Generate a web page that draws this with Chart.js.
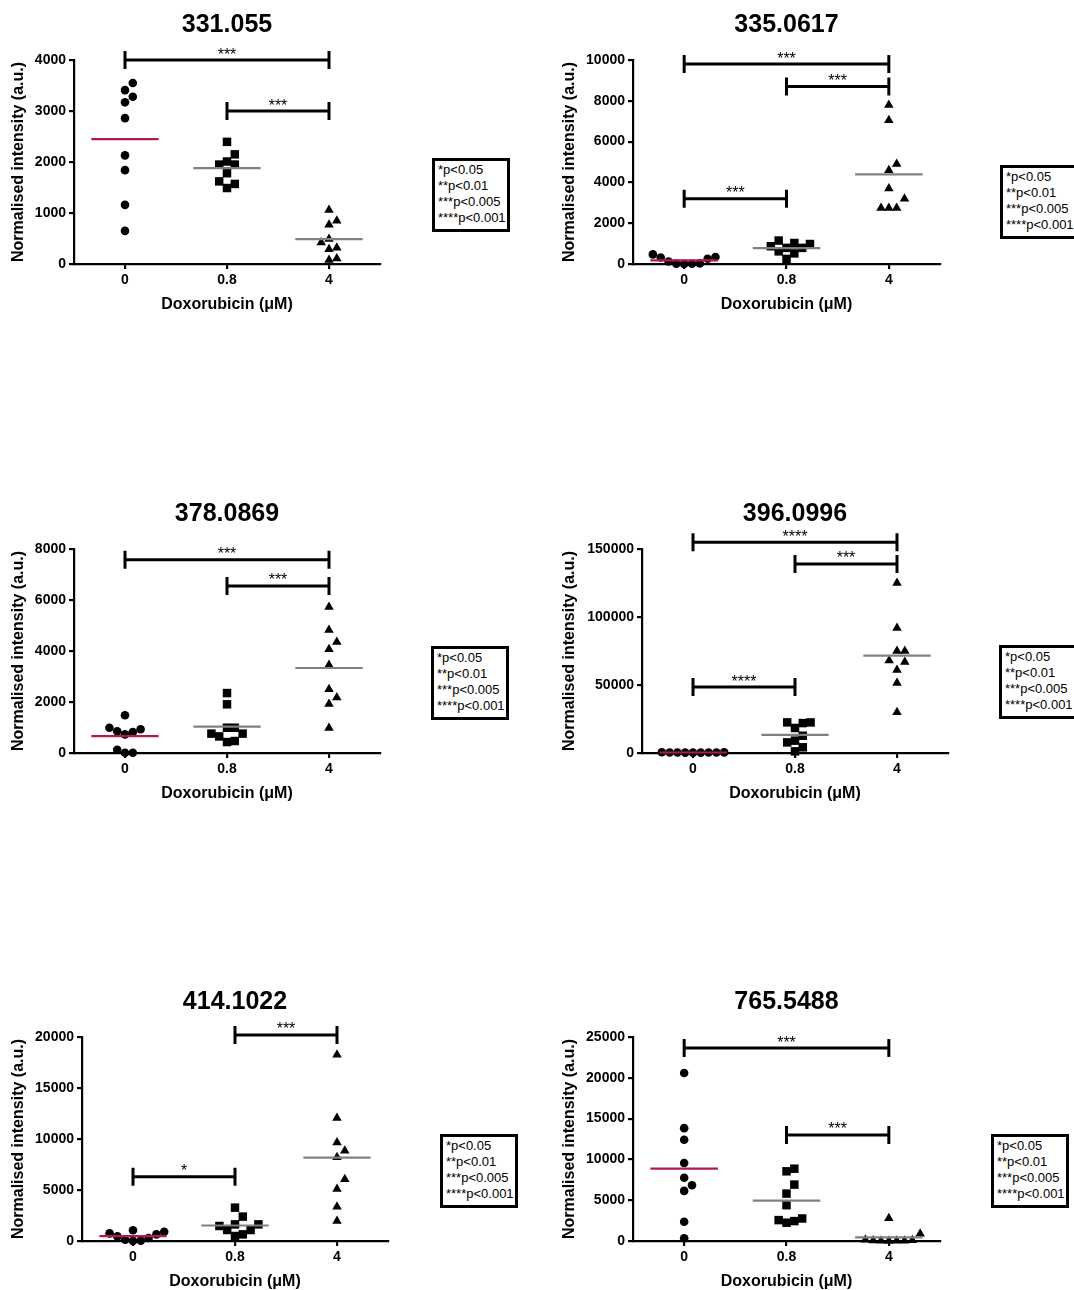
<!DOCTYPE html>
<html>
<head>
<meta charset="utf-8">
<title>Doxorubicin dose response of selected features</title>
<script src="https://cdn.jsdelivr.net/npm/chart.js@4.4.1/dist/chart.umd.min.js"></script>
<style>
  html, body { margin: 0; padding: 0; width: 1074px; height: 1290px; overflow: hidden; background: #fff; }
  canvas { position: absolute; }
  .key {
    position: absolute; box-sizing: border-box; width: 78px; height: 74px;
    border: 3px solid #000; padding: 1px 0 0 3px; background: #fff; color: #000;
    font: 13px 'Liberation Sans', Arial, sans-serif; line-height: 16px; white-space: nowrap;
  }
</style>
</head>
<body>
<script>
// ---- data -------------------------------------------------------------
const categories = ['0', '0.8', '4'];            // doxorubicin dose (µM)
const titles = ['331.055', '335.0617', '378.0869', '396.0996', '414.1022', '765.5488'];
const keyLines = ['*p<0.05', '**p<0.01', '***p<0.005', '****p<0.001'];

// normalised intensities (a.u.), nine replicates per dose
const mz331_dox0  = [3550, 3410, 3280, 3170, 2860, 2130, 1840, 1160, 650];
const mz331_dox08 = [2395, 2150, 2010, 1950, 1950, 1780, 1620, 1570, 1490];
const mz331_dox4  = [1060, 850, 770, 490, 420, 320, 290, 110, 80];

const mz335_dox0  = [470, 320, 120, 20, 5, 10, 30, 260, 340];
const mz335_dox08 = [1150, 1030, 980, 870, 790, 790, 620, 520, 250];
const mz335_dox4  = [7800, 7050, 4900, 4600, 3700, 3200, 2750, 2750, 2750];

const mz378_dox0  = [1480, 990, 930, 850, 820, 730, 130, 10, 10];
const mz378_dox08 = [2350, 1910, 990, 990, 760, 760, 650, 470, 430];
const mz378_dox4  = [5730, 4820, 4350, 4070, 3450, 2500, 2180, 1920, 980];

const mz396_dox0  = [300, 400, 250, 500, 350, 450, 300, 400, 350];
const mz396_dox08 = [22500, 22500, 22000, 18400, 12700, 9100, 7800, 4200, 1200];
const mz396_dox4  = [125000, 92000, 75000, 75000, 68000, 67000, 61000, 51500, 30000];

const mz414_dox0  = [1050, 900, 750, 650, 450, 300, 120, 40, 10];
const mz414_dox08 = [3270, 2390, 1630, 1630, 1470, 1080, 1080, 650, 490];
const mz414_dox4  = [18270, 12050, 9660, 8840, 8220, 6060, 5110, 3370, 1960];

const mz765_dox0  = [20580, 13830, 12400, 9550, 7760, 6830, 6140, 2360, 330];
const mz765_dox08 = [8860, 8540, 6910, 5810, 4390, 2760, 2560, 2440, 2240];
const mz765_dox4  = [2800, 900, 150, 80, 60, 40, 30, 20, 10];

// y-axis tick labels
const ticks331 = [0, 1000, 2000, 3000, 4000];
const ticks335 = [0, 2000, 4000, 6000, 8000, 10000];
const ticks378 = [0, 2000, 4000, 6000, 8000];
const ticks396 = [0, 50000, 100000, 150000];
const ticks414 = [0, 5000, 10000, 15000, 20000];
const ticks765 = [0, 5000, 10000, 15000, 20000, 25000];

// significance brackets: [from dose index, to dose index, level, label]
const sig331 = [[0, 2, 4000, '***'], [1, 2, 3000, '***']];
const sig335 = [[0, 2, 9800, '***'], [1, 2, 8700, '***'], [0, 1, 3200, '***']];
const sig378 = [[0, 2, 7580, '***'], [1, 2, 6550, '***']];
const sig396 = [[0, 2, 155000, '****'], [1, 2, 139000, '***'], [0, 1, 48500, '****']];
const sig414 = [[1, 2, 20200, '***'], [0, 1, 6300, '*']];
const sig765 = [[0, 2, 23650, '***'], [1, 2, 13000, '***']];

// ---- layout & style ---------------------------------------------------
const FONT = "'Liberation Sans', Arial, sans-serif";
const CW = 537, CH = 314;          // canvas size of one panel
const PLOT_H = 204;                // plot height in px
const UNIT_PX = 102;               // px per dose column
const CRIMSON = '#b3175b', GREY = '#808080';
const STYLES = ['circle', 'rect', 'triangle'];
const RADII = [4.3, 6.0, 5.5];
const AXIS_W = 2.2;

const panels = [
  { title: titles[0], groups: [mz331_dox0, mz331_dox08, mz331_dox4], yTicks: ticks331, sig: sig331,
    cell: { x: 0, y: 0 },     area: { left: 74, right: 380 },  yTitleX: 18.5,  key: { x: 432, y: 158 } },
  { title: titles[1], groups: [mz335_dox0, mz335_dox08, mz335_dox4], yTicks: ticks335, sig: sig335,
    cell: { x: 537, y: 0 },   area: { left: 633, right: 940 }, yTitleX: 569.5, key: { x: 1000, y: 165 } },
  { title: titles[2], groups: [mz378_dox0, mz378_dox08, mz378_dox4], yTicks: ticks378, sig: sig378,
    cell: { x: 0, y: 489 },   area: { left: 74, right: 380 },  yTitleX: 18.5,  key: { x: 431, y: 646 } },
  { title: titles[3], groups: [mz396_dox0, mz396_dox08, mz396_dox4], yTicks: ticks396, sig: sig396,
    cell: { x: 537, y: 489 }, area: { left: 642, right: 948 }, yTitleX: 569.5, key: { x: 999, y: 645 } },
  { title: titles[4], groups: [mz414_dox0, mz414_dox08, mz414_dox4], yTicks: ticks414, sig: sig414,
    cell: { x: 0, y: 977 },   area: { left: 82, right: 388 },  yTitleX: 18.5,  key: { x: 440, y: 1134 } },
  { title: titles[5], groups: [mz765_dox0, mz765_dox08, mz765_dox4], yTicks: ticks765, sig: sig765,
    cell: { x: 537, y: 977 }, area: { left: 633, right: 940 }, yTitleX: 569.5, key: { x: 991, y: 1134 } }
];

// Scatter-dot layout: points are placed lowest first, each in the column slot
// nearest the centre that has no other symbol within MIN_GAP px vertically.
function spread(values, yMax) {
  const MIN_GAP = 10, STEP = 7.8;
  const pxPerVal = PLOT_H / yMax;
  const order = values.map((v, i) => i).sort((a, b) => values[a] - values[b]);
  const placed = [];
  const offsets = new Array(values.length).fill(0);
  for (const i of order) {
    const py = values[i] * pxPerVal;
    for (let k = 0; k < 40; k++) {
      const slot = k === 0 ? 0 : (k % 2 ? 1 : -1) * Math.ceil(k / 2);
      const clash = placed.some(p => p.slot === slot && Math.abs(p.py - py) < MIN_GAP);
      if (!clash) { placed.push({ slot, py }); offsets[i] = slot * STEP / UNIT_PX; break; }
    }
  }
  return offsets;
}

const mean = a => a.reduce((s, v) => s + v, 0) / a.length;

// significance brackets with star labels, drawn through the chart's scales
const bracketPlugin = {
  id: 'sigBrackets',
  afterDatasetsDraw(chart, args, opts) {
    const { ctx } = chart;
    const xs = chart.scales.x, ys = chart.scales.y;
    ctx.save();
    ctx.strokeStyle = '#000';
    ctx.fillStyle = '#000';
    ctx.lineWidth = 3;
    ctx.font = '16px ' + FONT;
    ctx.textAlign = 'center';
    ctx.textBaseline = 'alphabetic';
    for (const [a, b, level, label] of opts.items) {
      const x1 = xs.getPixelForValue(a), x2 = xs.getPixelForValue(b), y = ys.getPixelForValue(level);
      ctx.beginPath();
      ctx.moveTo(x1, y); ctx.lineTo(x2, y);
      ctx.moveTo(x1, y - 9); ctx.lineTo(x1, y + 9);
      ctx.moveTo(x2, y - 9); ctx.lineTo(x2, y + 9);
      ctx.stroke();
      ctx.fillText(label, (x1 + x2) / 2, y - 0.5);
    }
    ctx.restore();
  }
};

function axisCommon() {
  return {
    grid: { drawOnChartArea: false, drawTicks: true, tickLength: 5, color: '#000', lineWidth: AXIS_W },
    border: { display: true, color: '#000', width: AXIS_W }
  };
}

function drawPanel(p) {
  const cv = document.createElement('canvas');
  cv.width = CW; cv.height = CH;
  cv.style.left = p.cell.x + 'px'; cv.style.top = p.cell.y + 'px';
  cv.style.width = CW + 'px'; cv.style.height = CH + 'px';
  document.body.appendChild(cv);

  const yMax = p.yTicks[p.yTicks.length - 1];
  const yAxisW = p.area.left - p.yTitleX + 16 * 1.2 / 2;
  const padLeft = p.area.left - p.cell.x - yAxisW;
  const padRight = p.cell.x + CW - p.area.right;

  const datasets = [];
  p.groups.forEach((vals, g) => {
    const m = mean(vals);
    datasets.push({
      data: [{ x: g - 0.33, y: m }, { x: g + 0.33, y: m }],
      showLine: true, borderColor: g === 0 ? CRIMSON : GREY, borderWidth: 2.2,
      pointRadius: 0, pointHoverRadius: 0, order: 0, clip: false
    });
    const offs = spread(vals, yMax);
    datasets.push({
      data: vals.map((v, i) => ({ x: g + offs[i], y: v })),
      pointStyle: STYLES[g], pointRadius: RADII[g], pointHoverRadius: RADII[g],
      backgroundColor: '#000', borderColor: '#000', borderWidth: 0, order: 1, clip: false
    });
  });

  new Chart(cv, {
    type: 'scatter',
    data: { datasets },
    plugins: [bracketPlugin],
    options: {
      responsive: false, animation: false, devicePixelRatio: 1, events: [],
      layout: { padding: { left: padLeft, right: padRight, top: 0, bottom: 0 } },
      plugins: {
        legend: { display: false }, tooltip: { enabled: false },
        title: {
          display: true, text: p.title, fullSize: false, color: '#000',
          font: { family: FONT, size: 25, weight: 'bold' }, padding: { top: 10, bottom: 20 }
        },
        sigBrackets: { items: p.sig }
      },
      scales: {
        x: Object.assign(axisCommon(), {
          type: 'linear', min: -0.5, max: 2.5,
          afterBuildTicks: s => { s.ticks = categories.map((c, i) => ({ value: i })); },
          afterFit: s => { s.height = 50; },
          ticks: {
            callback: v => categories[v], color: '#000', padding: 3, maxRotation: 0, autoSkip: false,
            font: { family: FONT, size: 14, weight: 'bold' }
          },
          title: {
            display: true, text: 'Doxorubicin (μM)', color: '#000', padding: { top: 0, bottom: 0 },
            font: { family: FONT, size: 16, weight: 'bold' }
          }
        }),
        y: Object.assign(axisCommon(), {
          type: 'linear', min: 0, max: yMax,
          afterBuildTicks: s => { s.ticks = p.yTicks.map(v => ({ value: v })); },
          afterFit: s => { s.width = yAxisW; },
          ticks: {
            callback: v => String(v), color: '#000', padding: 3,
            font: { family: FONT, size: 14, weight: 'bold' }
          },
          title: {
            display: true, text: 'Normalised intensity (a.u.)', color: '#000', padding: { top: 0, bottom: 0 },
            font: { family: FONT, size: 16, weight: 'bold' }
          }
        })
      }
    }
  });

  const key = document.createElement('div');
  key.className = 'key';
  key.style.left = p.key.x + 'px';
  key.style.top = p.key.y + 'px';
  keyLines.forEach(t => {
    const line = document.createElement('div');
    line.textContent = t;
    key.appendChild(line);
  });
  document.body.appendChild(key);
}

panels.forEach(drawPanel);
</script>
</body>
</html>
